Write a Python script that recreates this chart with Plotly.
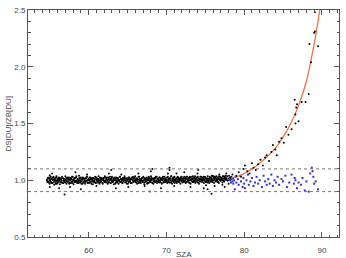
import plotly.graph_objects as go

# ---- data ----
band_x = [54.62,54.70,54.75,54.83,54.91,54.98,55.05,55.12,55.20,55.26,
55.35,55.41,55.50,55.57,55.63,55.72,55.80,55.86,55.93,56.02,
56.10,56.17,56.24,56.31,56.40,56.47,56.55,56.61,56.70,56.78,
56.84,56.93,57.01,57.08,57.15,57.24,57.30,57.38,57.46,57.53,
57.62,57.69,57.77,57.85,57.92,58.00,58.07,58.15,58.23,58.30,
58.38,58.46,58.53,58.61,58.68,58.77,58.84,58.92,58.99,59.07,
59.15,59.22,59.31,59.38,59.46,59.53,59.61,59.69,59.76,59.84,
59.92,60.00,60.07,60.15,60.23,60.30,60.38,60.46,60.54,60.61,
60.69,60.77,60.84,60.92,61.00,61.08,61.15,61.23,61.31,61.38,
61.46,61.54,61.61,61.69,61.77,61.85,61.92,62.00,62.08,62.16,
62.23,62.31,62.39,62.46,62.54,62.62,62.70,62.77,62.85,62.93,
63.00,63.08,63.16,63.24,63.31,63.39,63.47,63.54,63.62,63.70,
63.78,63.85,63.93,64.01,64.08,64.16,64.24,64.32,64.39,64.47,
64.55,64.62,64.70,64.78,64.86,64.93,65.01,65.09,65.16,65.24,
65.32,65.40,65.47,65.55,65.63,65.70,65.78,65.86,65.94,66.01,
66.09,66.17,66.24,66.32,66.40,66.48,66.55,66.63,66.71,66.78,
66.86,66.94,67.02,67.09,67.17,67.25,67.32,67.40,67.48,67.56,
67.63,67.71,67.79,67.86,67.94,68.02,68.10,68.17,68.25,68.33,
68.40,68.48,68.56,68.64,68.71,68.79,68.87,68.94,69.02,69.10,
69.18,69.25,69.33,69.41,69.48,69.56,69.64,69.72,69.79,69.87,
69.95,70.02,70.10,70.18,70.26,70.33,70.41,70.49,70.56,70.64,
70.72,70.80,70.87,70.95,71.03,71.10,71.18,71.26,71.34,71.41,
71.49,71.57,71.64,71.72,71.80,71.88,71.95,72.03,72.11,72.18,
72.26,72.34,72.42,72.49,72.57,72.65,72.72,72.80,72.88,72.96,
73.03,73.11,73.19,73.26,73.34,73.42,73.50,73.57,73.65,73.73,
73.80,73.88,73.96,74.04,74.11,74.19,74.27,74.34,74.42,74.50,
74.58,74.65,74.73,74.81,74.88,74.96,75.04,75.12,75.19,75.27,
75.35,75.42,75.50,75.58,75.66,75.73,75.81,75.89,75.96,76.04,
76.12,76.20,76.27,76.35,76.43,76.50,76.58,76.66,76.74,76.81,
76.89,76.97,77.04,77.12,77.20,77.28,77.35,77.43,77.51,77.58,
77.66,77.74,77.82,77.89,77.97,78.05,78.12,78.20,78.28,78.35]

band_y = [1.005,0.985,1.020,0.990,1.015,0.970,1.000,1.030,0.980,1.010,
0.975,1.005,1.025,0.960,1.010,0.995,0.985,1.035,0.970,1.015,
0.990,1.025,1.000,0.965,1.015,1.005,0.980,1.020,0.975,0.995,
1.010,0.985,1.035,1.000,0.970,1.015,0.990,1.005,1.025,0.980,
1.000,0.975,1.010,1.030,0.985,1.005,0.965,1.020,0.995,0.985,
1.025,0.995,0.975,1.010,0.990,1.040,1.000,0.980,1.015,0.970,
1.005,1.025,0.985,1.015,0.995,0.970,1.020,0.990,1.030,1.000,
0.980,1.010,0.975,1.005,1.025,0.985,1.015,1.000,0.965,1.020,
0.995,0.985,1.030,0.975,1.005,1.015,0.980,1.010,0.995,0.970,
1.025,1.000,0.985,1.015,0.975,1.005,1.020,0.990,1.035,0.995,
0.980,1.010,1.000,0.970,1.025,0.985,1.005,1.015,0.975,0.995,
1.030,0.990,1.005,0.965,1.020,1.000,0.980,1.025,0.995,0.985,
1.015,0.970,1.000,1.030,0.985,1.010,0.995,0.975,1.020,0.990,
1.005,1.035,0.980,1.000,1.015,0.970,1.005,1.020,0.985,1.025,
0.995,0.980,1.015,0.975,1.005,1.030,0.990,1.000,1.020,0.985,
1.000,1.015,0.970,1.005,1.030,0.985,1.010,0.995,0.975,1.005,
1.020,0.985,1.030,1.000,0.965,1.015,0.990,1.005,1.025,0.980,
1.000,0.975,1.020,0.995,0.985,1.035,1.005,0.980,1.015,0.970,
1.005,1.020,0.985,1.030,0.995,0.975,1.015,0.990,1.000,1.025,
0.985,1.005,1.015,0.970,1.000,1.030,0.980,1.010,0.995,0.985,
1.020,1.000,0.975,1.030,0.990,1.005,1.015,0.980,1.000,1.035,
0.970,1.005,1.020,0.985,1.030,1.000,0.990,1.015,0.975,1.005,
1.025,0.985,1.000,1.015,0.970,1.005,1.030,0.990,1.010,0.995,
0.985,1.015,1.000,0.975,1.030,0.990,1.005,1.020,0.980,1.000,
1.030,0.970,1.005,1.015,0.985,1.035,1.000,0.990,1.020,0.975,
1.005,1.020,0.985,1.030,1.000,0.970,1.015,0.990,1.005,1.030,
0.985,1.000,1.020,0.975,1.005,1.030,0.990,1.015,1.000,0.980,
1.015,1.005,0.975,1.030,0.990,1.000,1.020,0.985,1.005,1.035,
0.975,1.005,1.020,0.990,1.035,1.000,0.985,1.015,0.975,1.005,
1.030,0.995,1.005,1.020,0.980,1.000,1.035,0.990,1.015,1.005,
1.020,1.005,1.035,0.995,1.015,1.040,1.005,1.025,1.010,1.030]

band2_x = [54.66,54.79,54.87,54.94,55.02,55.09,55.16,55.24,55.31,55.38,
55.46,55.53,55.61,55.68,55.76,55.83,55.90,55.98,56.06,56.13,
56.20,56.28,56.35,56.43,56.51,56.58,56.66,56.74,56.81,56.89,
56.97,57.04,57.12,57.19,57.27,57.34,57.42,57.50,57.57,57.65,
57.73,57.81,57.88,57.96,58.03,58.11,58.19,58.27,58.34,58.42,
58.50,58.57,58.65,58.72,58.80,58.88,58.96,59.03,59.11,59.19,
59.26,59.34,59.42,59.50,59.57,59.65,59.73,59.80,59.88,59.96,
60.04,60.11,60.19,60.27,60.34,60.42,60.50,60.58,60.65,60.73,
60.81,60.88,60.96,61.04,61.12,61.19,61.27,61.35,61.42,61.50,
61.58,61.65,61.73,61.81,61.89,61.96,62.04,62.12,62.20,62.27,
62.35,62.43,62.50,62.58,62.66,62.74,62.81,62.89,62.97,63.04,
63.12,63.20,63.28,63.35,63.43,63.51,63.58,63.66,63.74,63.82,
63.89,63.97,64.05,64.12,64.20,64.28,64.36,64.43,64.51,64.59,
64.66,64.74,64.82,64.90,64.97,65.05,65.13,65.20,65.28,65.36,
65.44,65.51,65.59,65.67,65.74,65.82,65.90,65.98,66.05,66.13,
66.21,66.28,66.36,66.44,66.52,66.59,66.67,66.75,66.82,66.90,
66.98,67.06,67.13,67.21,67.29,67.36,67.44,67.52,67.60,67.67,
67.75,67.83,67.90,67.98,68.06,68.14,68.21,68.29,68.37,68.44,
68.52,68.60,68.68,68.75,68.83,68.91,68.98,69.06,69.14,69.22,
69.29,69.37,69.45,69.52,69.60,69.68,69.76,69.83,69.91,69.99,
70.06,70.14,70.22,70.30,70.37,70.45,70.53,70.60,70.68,70.76,
70.84,70.91,70.99,71.07,71.14,71.22,71.30,71.38,71.45,71.53,
71.61,71.68,71.76,71.84,71.92,71.99,72.07,72.15,72.22,72.30,
72.38,72.46,72.53,72.61,72.69,72.76,72.84,72.92,73.00,73.07,
73.15,73.23,73.30,73.38,73.46,73.54,73.61,73.69,73.77,73.84,
73.92,74.00,74.08,74.15,74.23,74.31,74.38,74.46,74.54,74.62,
74.69,74.77,74.85,74.92,75.00,75.08,75.16,75.23,75.31,75.39,
75.46,75.54,75.62,75.70,75.77,75.85,75.93,76.00,76.08,76.16,
76.24,76.31,76.39,76.47,76.54,76.62,76.70,76.78,76.85,76.93,
77.01,77.08,77.16,77.24,77.32,77.39,77.47,77.55,77.62,77.70]

band2_y = [0.995,1.015,0.980,1.025,1.000,0.990,1.010,0.975,1.020,1.005,
1.030,0.985,1.000,1.015,0.970,1.025,0.995,1.005,0.980,1.010,
1.000,1.020,0.985,1.010,0.995,1.030,0.975,1.015,1.000,0.990,
0.980,1.005,1.020,0.990,1.025,0.985,1.010,0.970,1.005,1.020,
1.015,0.990,0.975,1.030,1.000,1.010,0.985,1.020,0.995,1.035,
0.985,1.010,1.000,0.975,1.020,0.995,1.025,0.990,1.005,0.970,
1.020,0.980,1.010,1.000,0.985,1.015,0.995,1.030,0.975,1.005,
1.000,1.025,0.990,1.010,0.970,1.005,1.020,0.985,1.015,0.995,
1.010,0.975,1.025,0.995,1.005,0.985,1.035,1.000,0.980,1.015,
0.990,1.020,1.005,0.970,1.015,1.000,0.985,1.025,0.995,1.010,
1.025,0.995,0.980,1.010,1.000,1.030,0.975,1.005,1.020,0.990,
0.985,1.015,1.000,1.025,0.970,1.010,0.995,0.980,1.020,1.005,
1.000,0.990,1.030,0.985,1.010,1.005,0.975,1.020,0.995,1.015,
1.020,1.000,0.985,1.015,0.995,0.970,1.025,1.005,0.990,1.010,
0.975,1.010,1.025,1.000,0.985,1.020,0.995,1.035,1.005,0.980,
1.015,0.990,1.005,0.975,1.030,1.000,0.985,1.010,0.995,1.020,
0.995,1.025,0.980,1.015,1.000,0.990,1.020,0.970,1.010,1.005,
1.030,0.985,1.010,0.995,1.020,1.005,0.975,1.015,0.990,1.000,
0.985,1.020,1.000,1.030,0.990,1.010,1.005,0.980,1.025,0.995,
1.010,0.975,1.020,1.000,1.015,0.985,1.030,0.995,1.005,0.990,
1.005,1.025,0.990,1.010,0.980,1.020,1.000,1.035,0.985,1.015,
0.995,1.010,1.025,0.975,1.005,1.000,1.020,0.990,1.030,1.010,
1.015,0.985,1.005,1.025,0.995,1.010,0.980,1.020,1.000,1.030,
0.990,1.020,1.010,0.985,1.030,1.005,0.995,1.015,0.975,1.025,
1.005,0.995,1.030,1.010,0.985,1.020,1.000,1.035,0.990,1.015,
1.025,1.000,0.980,1.015,1.005,0.990,1.030,1.010,0.995,1.020,
1.010,1.030,0.995,1.005,1.020,0.985,1.015,1.000,1.035,0.990,
1.000,1.015,1.025,0.990,1.010,1.040,1.005,0.995,1.020,1.030,
1.015,0.995,1.030,1.010,1.000,1.025,0.985,1.035,1.005,1.020,
1.025,1.010,1.000,1.035,1.015,0.995,1.030,1.020,1.040,1.010]

outlier_x = [55.0,55.3,56.2,56.9,57.6,58.3,59.0,59.8,61.0,62.6,62.9,63.5,64.2,65.1,
             66.4,67.2,67.9,68.0,68.2,69.3,70.2,70.4,70.4,71.0,71.3,72.3,73.1,74.0,74.1,
             74.8,75.1,75.3,75.8,75.9,76.2,76.8,77.2,77.5,77.7,78.0,55.0]
outlier_y = [0.94,1.06,0.93,0.875,0.94,1.07,0.92,1.05,0.95,1.06,1.09,0.93,1.05,0.94,
             1.06,0.95,0.90,1.08,1.10,0.93,1.06,1.09,1.11,0.95,1.06,1.07,0.94,1.06,1.09,
             0.93,0.955,0.92,0.88,1.04,0.95,1.05,0.96,0.94,1.06,0.97,1.045]

high_x = [78.5,79.0,79.3,79.6,79.9,80.1,80.4,80.7,81.0,81.2,81.5,81.8,82.1,82.4,82.7,
          82.9,83.2,83.5,83.7,84.0,84.2,84.5,84.8,85.1,85.4,85.7,86.1,86.5,86.6,86.6,
          86.7,86.8,87.0,87.4,87.9,88.3,88.4,88.6,89.0,89.1,89.1,89.5]
high_y = [1.05,1.04,1.07,1.03,1.10,1.13,1.08,1.06,1.15,1.11,1.09,1.14,1.18,1.13,1.20,
          1.22,1.17,1.25,1.31,1.27,1.22,1.34,1.37,1.33,1.47,1.40,1.45,1.71,1.50,1.58,
          1.64,1.67,1.52,1.69,1.69,1.76,2.20,2.04,2.30,2.31,2.48,2.18]

blue_x = [78.2,78.3,78.4,78.5,78.6,78.6,78.7,78.8,78.9,79.0,79.2,79.3,79.5,79.6,79.8,
          79.9,80.0,80.1,80.3,80.5,80.6,80.8,81.0,81.2,81.4,81.6,81.8,82.0,82.3,82.5,
          82.7,82.9,83.1,83.3,83.5,83.7,83.9,84.1,84.3,84.5,84.8,85.0,85.3,85.5,85.8,
          86.1,86.4,86.5,86.6,86.8,87.0,87.3,87.5,87.8,88.0,88.3,88.5,88.7,88.8,88.9,
          89.0,89.2,89.5]
blue_y = [1.00,0.98,1.01,0.99,1.02,0.97,1.00,0.92,1.03,0.98,1.01,0.96,1.04,0.99,0.94,
          1.02,0.97,0.93,1.00,1.05,0.96,0.99,1.02,0.95,0.98,1.03,0.97,1.00,0.94,1.04,
          0.99,0.96,1.01,0.97,1.05,0.95,1.00,0.98,1.03,0.96,1.01,0.99,1.04,0.94,0.98,
          1.05,0.97,1.02,1.00,0.93,0.98,0.96,1.02,0.91,0.99,0.90,1.06,1.11,1.08,1.03,
          0.97,0.99,0.92]

fit_x = [78.3,79.0,80.0,81.0,82.0,83.0,84.0,85.0,86.0,87.0,88.0,89.0,89.5,89.9]
fit_y = [1.02,1.03,1.06,1.10,1.15,1.21,1.28,1.38,1.50,1.66,1.87,2.20,2.40,2.58]

ref_lines = [1.1, 0.9]

# ---- figure ----
FONT = "Liberation Sans, Arial, sans-serif"
TXT = "#444444"
fig = go.Figure()
blk = dict(color="black", size=2)
fig.add_trace(go.Scatter(x=band_x, y=band_y, mode="markers", marker=blk, showlegend=False))
fig.add_trace(go.Scatter(x=band2_x, y=band2_y, mode="markers", marker=blk, showlegend=False))
fig.add_trace(go.Scatter(x=outlier_x, y=outlier_y, mode="markers", marker=blk, showlegend=False))
fig.add_trace(go.Scatter(x=blue_x, y=blue_y, mode="markers",
                         marker=dict(color="#3232d8", size=2, symbol="square"), showlegend=False))
fig.add_trace(go.Scatter(x=fit_x, y=fit_y, mode="lines",
                         line=dict(color="#f26a32", width=1.2, shape="spline"), showlegend=False))
fig.add_trace(go.Scatter(x=high_x, y=high_y, mode="markers", marker=blk, showlegend=False))

for yv in ref_lines:
    fig.add_shape(type="line", xref="paper", x0=0, x1=1, yref="y", y0=yv, y1=yv,
                  line=dict(color="#777777", width=1, dash="dot"))

axis_common = dict(showgrid=False, zeroline=False, showline=True, linecolor="#555555", linewidth=1,
                   mirror="allticks", ticks="inside", tickcolor="#555555", ticklen=5, tickwidth=1,
                   automargin=False,
                   tickfont=dict(family=FONT, size=8, color=TXT))

fig.update_xaxes(range=[52.2, 92.2], dtick=10, tick0=0, ticklabelstandoff=5,
                 minor=dict(dtick=1, ticks="inside", ticklen=2.5, tickcolor="#555555"),
                 **axis_common)
fig.update_yaxes(range=[0.5, 2.5], dtick=0.5, tick0=0, tickformat=".1f",
                 minor=dict(dtick=0.1, ticks="inside", ticklen=2.5, tickcolor="#555555"),
                 **axis_common)

fig.add_annotation(text="SZA", xref="paper", yref="paper", x=0.5, y=-0.079, xanchor="center",
                   yanchor="middle", showarrow=False, font=dict(family=FONT, size=8, color=TXT))
fig.add_annotation(text="DS[DU]/ZB[DU]", xref="paper", yref="paper", x=-0.064, y=0.5,
                   xanchor="center", yanchor="middle", textangle=-90, showarrow=False,
                   font=dict(family=FONT, size=8, color=TXT))

fig.update_layout(width=346, height=258, margin=dict(l=28, r=7, t=10, b=21),
                  plot_bgcolor="white", paper_bgcolor="white")

fig.write_html("out.html")
